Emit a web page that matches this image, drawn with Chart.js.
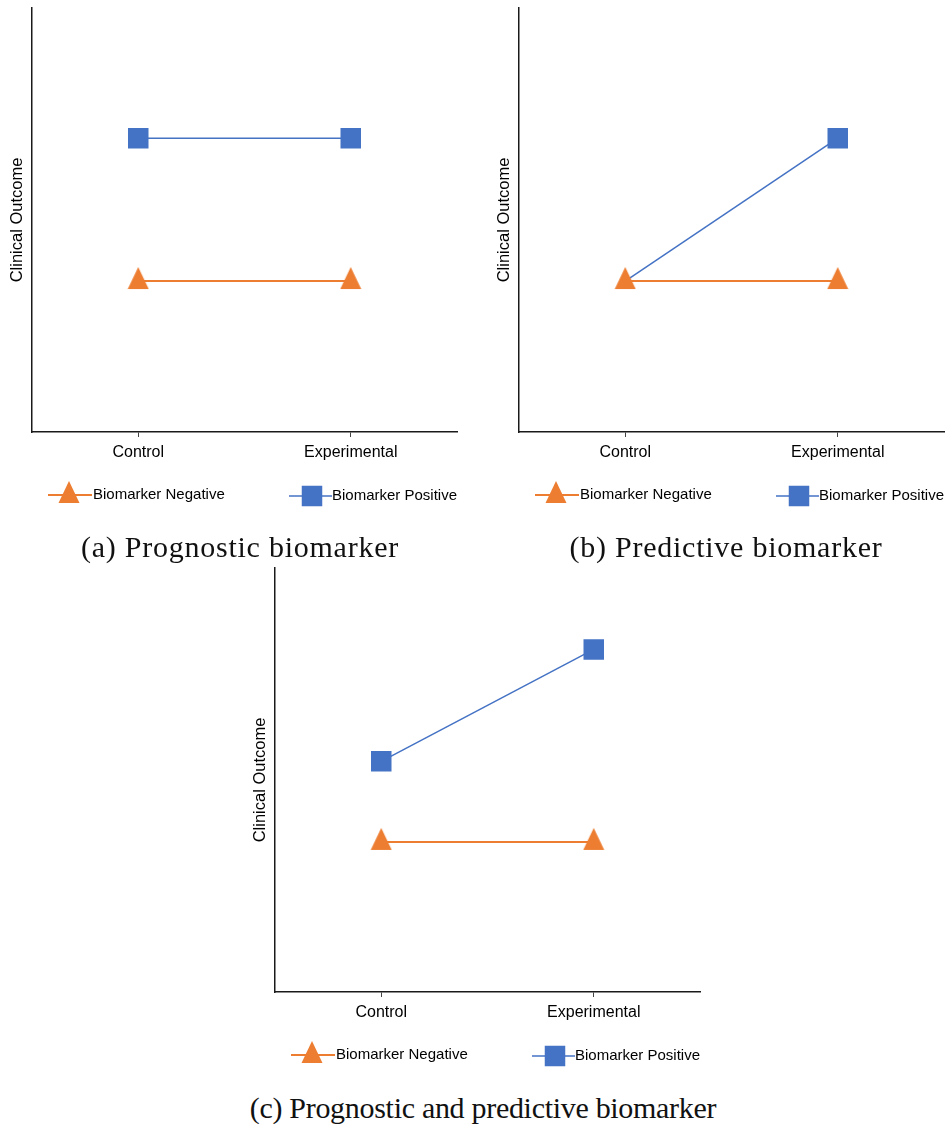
<!DOCTYPE html>
<html>
<head>
<meta charset="utf-8">
<script src="https://cdn.jsdelivr.net/npm/chart.js@4.4.0/dist/chart.umd.min.js"></script>
<style>
  body { margin: 0; background: #fff; width: 947px; height: 1124px; position: relative; overflow: hidden; }
  canvas { position: absolute; }
  .cap { position: absolute; font-family: "Liberation Serif", "Times New Roman", serif; font-size: 30px; line-height: 30px; text-align: center; color: #111; white-space: nowrap; }
</style>
</head>
<body>
<canvas id="chartA" width="460" height="520" style="left:0px;top:0px"></canvas>
<canvas id="chartB" width="460" height="520" style="left:487px;top:0px"></canvas>
<canvas id="chartC" width="460" height="520" style="left:243px;top:560px"></canvas>
<div class="cap" id="capA" style="left:0px;width:480px;top:532px;letter-spacing:0.75px"></div>
<div class="cap" id="capB" style="left:506px;width:440px;top:532px;letter-spacing:0.75px"></div>
<div class="cap" id="capC" style="left:183px;width:600px;top:1093px;letter-spacing:-0.3px"></div>
<script>
// values, on an unlabelled 0-10 scale
var categories = ['Control', 'Experimental'];
var seriesNames = ['Biomarker Negative', 'Biomarker Positive'];
var yAxisTitle = 'Clinical Outcome';

var negativeA = [3.56, 3.56];
var positiveA = [6.93, 6.93];

var negativeB = [3.56, 3.56];
var positiveB = [3.56, 6.93];

var negativeC = [3.54, 3.54];
var positiveC = [5.44, 8.08];

var captions = ['(a) Prognostic biomarker', '(b) Predictive biomarker', '(c) Prognostic and predictive biomarker'];

Chart.defaults.font.family = '"Liberation Sans", Arial, sans-serif';
Chart.defaults.color = '#000';

// office style triangle marker: a bit taller than equilateral, line crosses ~2/3 down
function triangleMarker(color) {
  var c = document.createElement('canvas');
  c.width = 22;
  c.height = 28;
  var g = c.getContext('2d');
  g.fillStyle = color;
  g.beginPath();
  g.moveTo(11, 0);
  g.lineTo(21.5, 22);
  g.lineTo(0.5, 22);
  g.closePath();
  g.fill();
  return c;
}
var orangeTriangle = triangleMarker('#ED7D31');

// legend drawn as "line with marker" like the office chart
var lineLegend = {
  id: 'lineLegend',
  afterDraw: function(chart) {
    var ctx = chart.ctx;
    var left = chart.chartArea.left;
    var base = chart.chartArea.bottom;
    var slots = [
      { start: 16, end: 60, mark: 37, text: 61, dy: 63 },
      { start: 257, end: 300, mark: 280, text: 300, dy: 64 }
    ];
    chart.data.datasets.forEach(function(ds, i) {
      var s = slots[i];
      var y = base + s.dy;
      ctx.save();
      ctx.strokeStyle = ds.borderColor;
      ctx.lineWidth = ds.borderWidth;
      ctx.beginPath();
      ctx.moveTo(left + s.start, y);
      ctx.lineTo(left + s.end, y);
      ctx.stroke();
      ctx.fillStyle = ds.backgroundColor;
      Chart.helpers.drawPoint(ctx, { pointStyle: ds.pointStyle, radius: ds.legendRadius, rotation: 0, borderWidth: 0 }, left + s.mark, y);
      ctx.fillStyle = '#000';
      ctx.font = '15px "Liberation Sans", Arial, sans-serif';
      ctx.textBaseline = 'middle';
      ctx.textAlign = 'left';
      ctx.fillText(ds.label, left + s.text, y);
      ctx.restore();
    });
  }
};

function makeChart(id, neg, pos, hidePosControl) {
  var ctx = document.getElementById(id).getContext('2d');
  return new Chart(ctx, {
    type: 'line',
    data: {
      labels: categories,
      datasets: [
        {
          label: seriesNames[0],
          data: neg,
          borderColor: '#ED7D31',
          backgroundColor: '#ED7D31',
          borderWidth: 2,
          pointStyle: orangeTriangle,
          pointRadius: 12,
          pointHoverRadius: 12,
          pointBorderWidth: 0,
          legendRadius: 12,
          tension: 0
        },
        {
          label: seriesNames[1],
          data: pos,
          borderColor: '#4472C4',
          backgroundColor: '#4472C4',
          borderWidth: 1.5,
          pointStyle: 'rect',
          pointRadius: hidePosControl ? [0, 14.5] : 14.5,
          pointHoverRadius: hidePosControl ? [0, 14.5] : 14.5,
          pointBorderWidth: 0,
          legendRadius: 14.5,
          tension: 0
        }
      ]
    },
    options: {
      responsive: false,
      animation: false,
      events: [],
      layout: { autoPadding: false, padding: { top: 8, right: 3, bottom: 48, left: 0 } },
      plugins: { legend: { display: false }, tooltip: { enabled: false } },
      scales: {
        x: {
          type: 'category',
          offset: true,
          grid: { display: true, offset: false, drawOnChartArea: false, drawTicks: true, tickLength: 5, color: '#444', lineWidth: 1 },
          border: { display: true, color: '#1a1a1a', width: 1.5 },
          ticks: { color: '#000', font: { size: 16 }, padding: 6, maxRotation: 0 },
          afterFit: function(s) { s.height = 40; }
        },
        y: {
          min: 0,
          max: 10,
          grid: { display: true, drawOnChartArea: false, drawTicks: false },
          border: { display: true, color: '#1a1a1a', width: 1.5 },
          ticks: { display: false },
          title: { display: true, text: yAxisTitle, color: '#000', font: { size: 16.5 }, padding: { top: 8, bottom: 0 } },
          afterFit: function(s) { s.width = 32; }
        }
      }
    },
    plugins: [lineLegend]
  });
}

makeChart('chartA', negativeA, positiveA, false);
makeChart('chartB', negativeB, positiveB, true);
makeChart('chartC', negativeC, positiveC, false);

document.getElementById('capA').textContent = captions[0];
document.getElementById('capB').textContent = captions[1];
document.getElementById('capC').textContent = captions[2];
</script>
</body>
</html>
